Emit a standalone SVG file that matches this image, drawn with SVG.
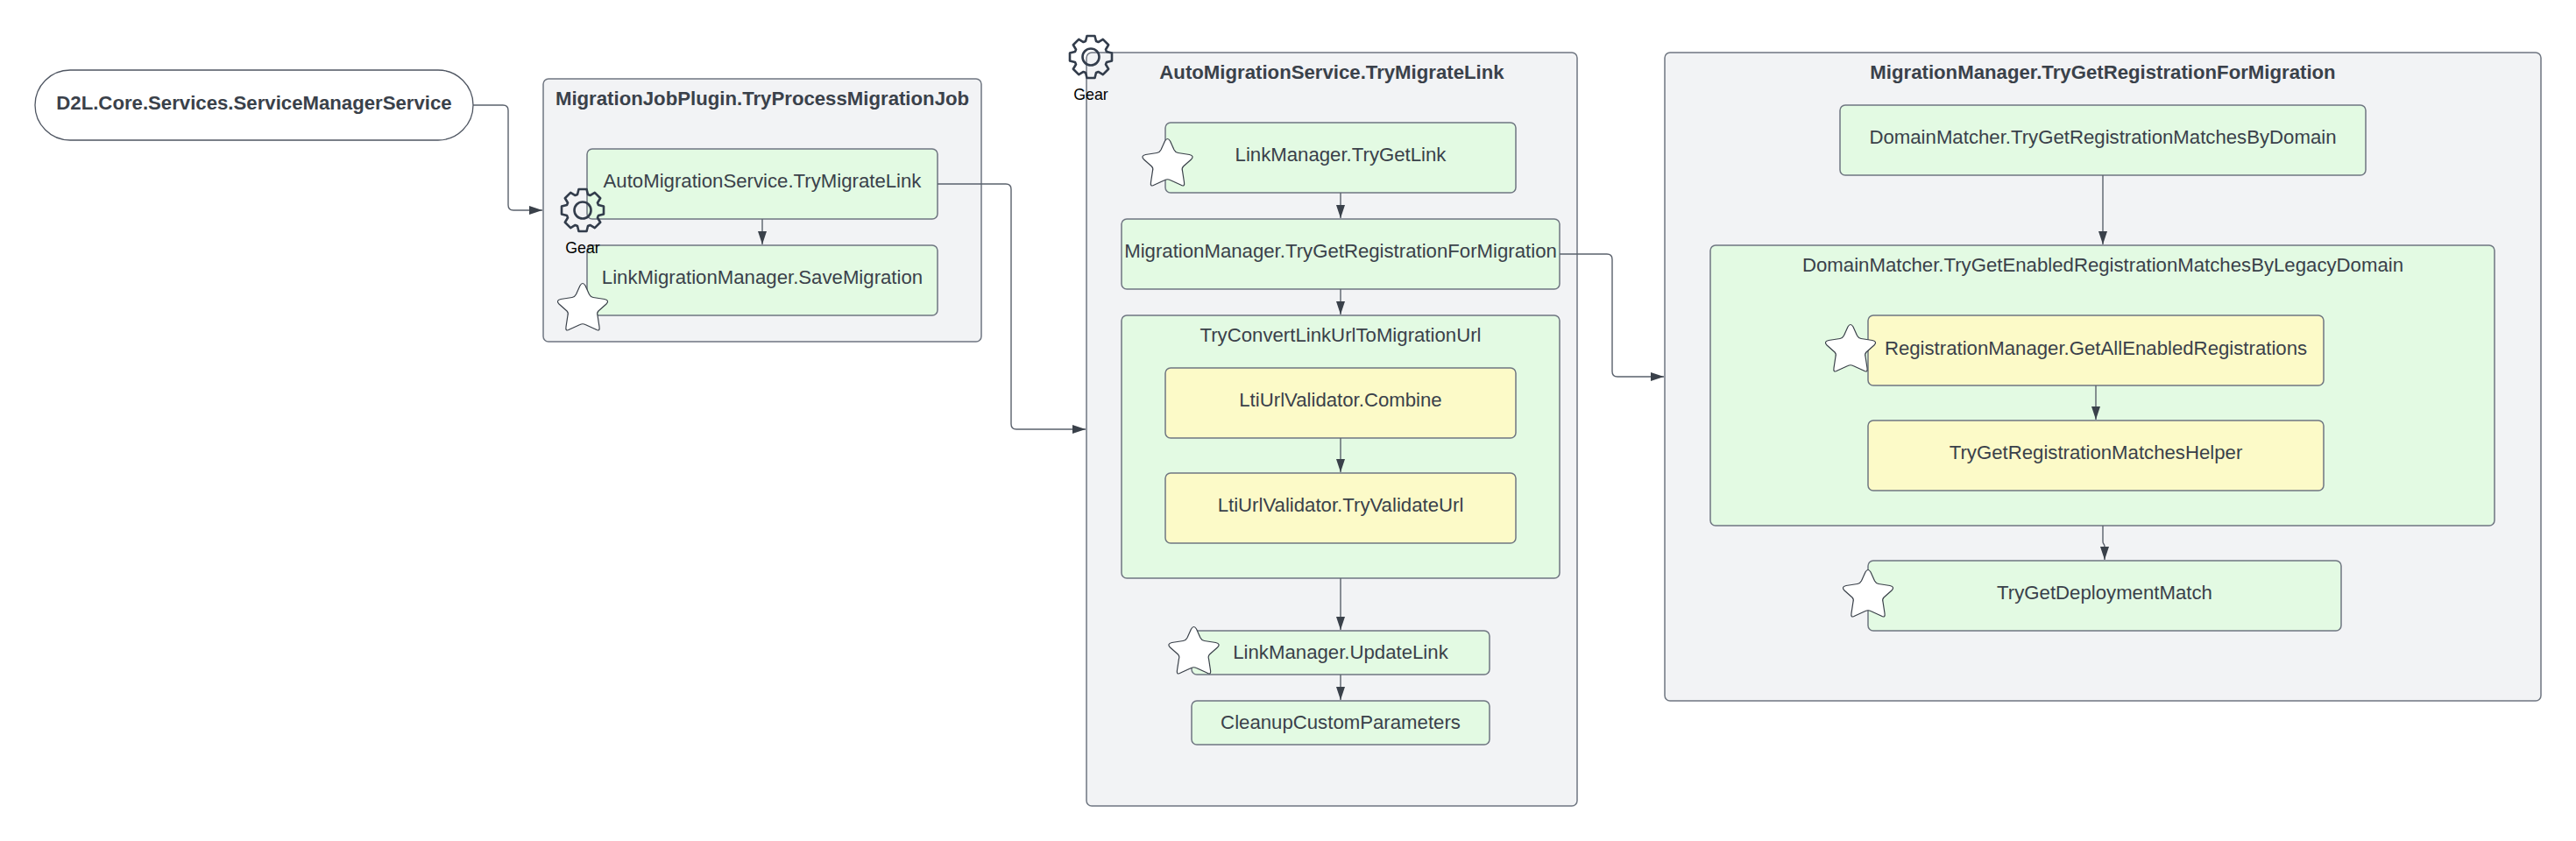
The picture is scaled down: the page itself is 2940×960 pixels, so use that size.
<svg xmlns="http://www.w3.org/2000/svg" xmlns:xlink="http://www.w3.org/1999/xlink" width="2940" height="960" viewBox="0 0 2940 960">
<style>
text{font-family:"Liberation Sans",Arial,sans-serif;font-size:22.2px;fill:#3a414a;text-anchor:middle}
.b{font-weight:bold}
.g{font-size:17.8px;fill:#000}
.frame{fill:#f2f3f5;stroke:#6f7681;stroke-width:1.5}
.green{fill:#e3fae3;stroke:#6f7681;stroke-width:1.5}
.yellow{fill:#fcfac8;stroke:#6f7681;stroke-width:1.5}
.term{fill:#fff;stroke:#4f5662;stroke-width:1.3}
.conn{fill:none;stroke:#5a616c;stroke-width:1.4}
.star{fill:#fff;stroke:#3a414a;stroke-width:1.2}
.gear{fill:none;stroke:#333d4c;stroke-width:2.6;stroke-linejoin:round}
</style>
<defs>
<marker id="arrow" markerUnits="userSpaceOnUse" markerWidth="18" markerHeight="14" refX="16" refY="6" orient="auto"><path d="M1 1L16 6L1 11Z" fill="#3a414a"/></marker>
<path id="starShape" d="M-3-24Q0-29 3-24L7.500-14Q9-11 12-10.500L25-8.500Q31-7 27-3L18 5Q16 7 17 10L19 23Q20 29 15 26L3 20.500Q0 19-3 20.500L-15 26Q-20 29-19 23L-17 10Q-16 7-18 5L-27-3Q-31-7-25-8.500L-12-10.500Q-9-11-7.500-14Z"/>
<g id="gearShape"><path d="M-6-18L-4.500-24L4.500-24L6-18L8.490-16.970L13.790-20.150L20.150-13.790L16.970-8.490L18-6L24-4.500L24 4.500L18 6L16.970 8.490L20.150 13.790L13.790 20.150L8.490 16.970L6 18L4.500 24L-4.500 24L-6 18L-8.490 16.970L-13.790 20.150L-20.150 13.790L-16.970 8.490L-18 6L-24 4.500L-24-4.500L-18-6L-16.970-8.490L-20.150-13.790L-13.790-20.150L-8.490-16.970Z"/><circle r="9.500"/></g>
</defs>
<g id="terminator"><rect class="term" x="40" y="80" width="500" height="80" rx="40"/><text class="b" x="290" y="125">D2L.Core.Services.ServiceManagerService</text></g>
<g id="frame-job"><rect class="frame" x="620" y="90" width="500" height="300" rx="6"/><text class="b" x="870" y="120">MigrationJobPlugin.TryProcessMigrationJob</text></g>
<g id="frame-auto"><rect class="frame" x="1240" y="60" width="560" height="860" rx="6"/><text class="b" x="1520" y="90">AutoMigrationService.TryMigrateLink</text></g>
<g id="frame-reg"><rect class="frame" x="1900" y="60" width="1000" height="740" rx="6"/><text class="b" x="2400" y="90">MigrationManager.TryGetRegistrationForMigration</text></g>
<g id="n-automigrate"><rect class="green" x="670" y="170" width="400" height="80" rx="6"/><text x="870" y="214">AutoMigrationService.TryMigrateLink</text></g>
<g id="n-save"><rect class="green" x="670" y="280" width="400" height="80" rx="6"/><text x="870" y="324">LinkMigrationManager.SaveMigration</text></g>
<g id="n-getlink"><rect class="green" x="1330" y="140" width="400" height="80" rx="6"/><text x="1530" y="184">LinkManager.TryGetLink</text></g>
<g id="n-migmgr"><rect class="green" x="1280" y="250" width="500" height="80" rx="6"/><text x="1530" y="294">MigrationManager.TryGetRegistrationForMigration</text></g>
<g id="n-convert"><rect class="green" x="1280" y="360" width="500" height="300" rx="6"/><text x="1530" y="390">TryConvertLinkUrlToMigrationUrl</text></g>
<g id="n-combine"><rect class="yellow" x="1330" y="420" width="400" height="80" rx="6"/><text x="1530" y="464">LtiUrlValidator.Combine</text></g>
<g id="n-validate"><rect class="yellow" x="1330" y="540" width="400" height="80" rx="6"/><text x="1530" y="584">LtiUrlValidator.TryValidateUrl</text></g>
<g id="n-update"><rect class="green" x="1360" y="720" width="340" height="50" rx="6"/><text x="1530" y="752">LinkManager.UpdateLink</text></g>
<g id="n-cleanup"><rect class="green" x="1360" y="800" width="340" height="50" rx="6"/><text x="1530" y="832">CleanupCustomParameters</text></g>
<g id="n-domain"><rect class="green" x="2100" y="120" width="600" height="80" rx="6"/><text x="2400" y="164">DomainMatcher.TryGetRegistrationMatchesByDomain</text></g>
<g id="n-legacy"><rect class="green" x="1952" y="280" width="895" height="320" rx="6"/><text x="2400" y="310">DomainMatcher.TryGetEnabledRegistrationMatchesByLegacyDomain</text></g>
<g id="n-allenabled"><rect class="yellow" x="2132" y="360" width="520" height="80" rx="6"/><text x="2392" y="405">RegistrationManager.GetAllEnabledRegistrations</text></g>
<g id="n-helper"><rect class="yellow" x="2132" y="480" width="520" height="80" rx="6"/><text x="2392" y="524">TryGetRegistrationMatchesHelper</text></g>
<g id="n-deploy"><rect class="green" x="2132" y="640" width="540" height="80" rx="6"/><text x="2402" y="684">TryGetDeploymentMatch</text></g>
<g id="connectors">
<path class="conn" marker-end="url(#arrow)" d="M540 120H574Q580 120 580 126V234Q580 240 586 240H619"/>
<path class="conn" marker-end="url(#arrow)" d="M1070 210H1148Q1154 210 1154 216V484Q1154 490 1160 490H1239"/>
<path class="conn" marker-end="url(#arrow)" d="M1780 290H1834Q1840 290 1840 296V424Q1840 430 1846 430H1899"/>
<path class="conn" marker-end="url(#arrow)" d="M870 250V279"/>
<path class="conn" marker-end="url(#arrow)" d="M1530 220V249"/>
<path class="conn" marker-end="url(#arrow)" d="M1530 330V359"/>
<path class="conn" marker-end="url(#arrow)" d="M1530 500V539"/>
<path class="conn" marker-end="url(#arrow)" d="M1530 660V719"/>
<path class="conn" marker-end="url(#arrow)" d="M1530 770V799"/>
<path class="conn" marker-end="url(#arrow)" d="M2400 200V279"/>
<path class="conn" marker-end="url(#arrow)" d="M2392 440V479"/>
<path class="conn" marker-end="url(#arrow)" d="M2400 600V618Q2400 620 2401 621Q2402 622 2402 624V639"/>
</g>
<g id="star-save"><use class="star" xlink:href="#starShape" href="#starShape" transform="translate(665 350)"/></g>
<g id="star-getlink"><use class="star" xlink:href="#starShape" href="#starShape" transform="translate(1332.500 185)"/></g>
<g id="star-update"><use class="star" xlink:href="#starShape" href="#starShape" transform="translate(1362.500 742)"/></g>
<g id="star-allenabled"><use class="star" xlink:href="#starShape" href="#starShape" transform="translate(2112 397)"/></g>
<g id="star-deploy"><use class="star" xlink:href="#starShape" href="#starShape" transform="translate(2132 677)"/></g>
<g id="gear-job"><use class="gear" xlink:href="#gearShape" href="#gearShape" transform="translate(665 240)"/><text class="g" x="665" y="289">Gear</text></g>
<g id="gear-auto"><use class="gear" xlink:href="#gearShape" href="#gearShape" transform="translate(1245 65)"/><text class="g" x="1245" y="114">Gear</text></g>
</svg>
